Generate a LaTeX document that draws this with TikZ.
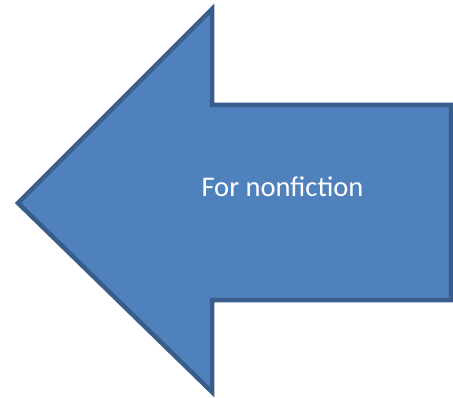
\documentclass[tikz,border=0pt]{standalone}
\usepackage{fontspec}
\setmainfont{Carlito}
\definecolor{arrowfill}{HTML}{4F81BD}
\definecolor{arrowline}{HTML}{385D8A}
\tikzset{
  blockarrow/.style={fill=arrowfill, draw=arrowline, line width=4.5pt, line join=miter},
  label/.style={text=white, font=\fontsize{28.5}{34}\selectfont, inner sep=0pt}
}
\begin{document}
\begin{tikzpicture}[x=1pt,y=1pt]
\useasboundingbox (0,0) rectangle (453,397);
\draw[blockarrow] (18,194) -- (212,388) -- (212,292) -- (451,292) -- (451,97) -- (212,97) -- (212,5) -- cycle;
\node[label, anchor=base] (txt) at (282.5,200) {For nonfiction};
\end{tikzpicture}
\end{document}
